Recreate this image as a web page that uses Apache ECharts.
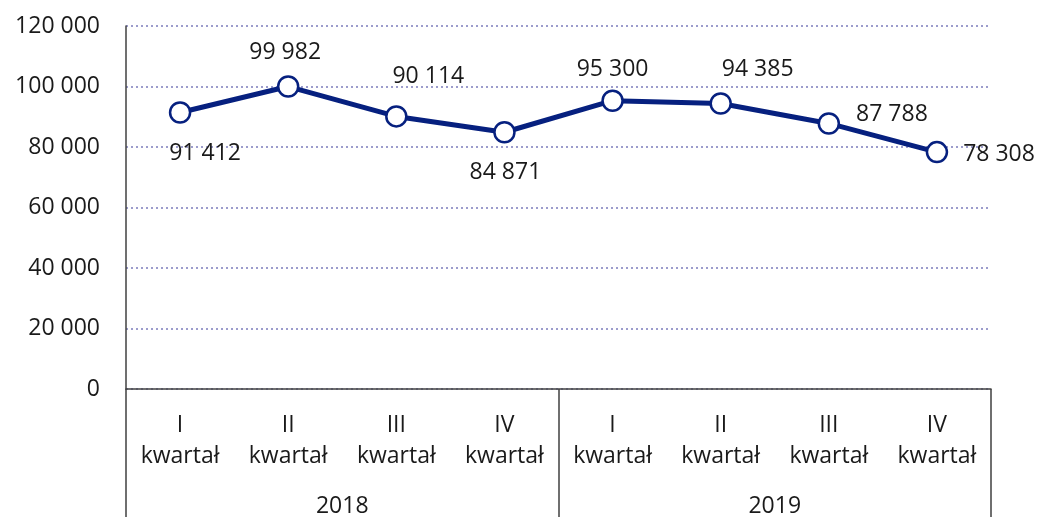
<!DOCTYPE html>
<html><head><meta charset="utf-8">
<script src="https://cdn.jsdelivr.net/npm/echarts@6/dist/echarts.min.js"></script>
<style>html,body{margin:0;padding:0;background:#fff;overflow:hidden;width:1038px;height:518px}#c{width:1038px;height:518px;overflow:hidden}</style>
</head><body><div id="c"></div>
<script>
const quarters = ['I\nkwartał','II\nkwartał','III\nkwartał','IV\nkwartał','I\nkwartał','II\nkwartał','III\nkwartał','IV\nkwartał'];
const years = ['2018','2019'];
const values = [91412, 99982, 90114, 84871, 95300, 94385, 87788, 78308];
const labelPos = ['bottom','top','top','bottom','top','top','right','right'];

const FONT = 'Open Sans';
const FS = 23;
const TXT = '#1a1a1a';
const NAVY = '#06207f';
function fmt(v){ return String(v).replace(/\B(?=(\d{3})+(?!\d))/g, ' '); }

const labelTweaks = [
  {distance: 18, offset: [25, 0]},
  {distance: 11, offset: [-3, 0]},
  {distance: 17, offset: [32, 0]},
  {distance: 17, offset: [1, 0]},
  {distance: 9, offset: [0, 0]},
  {distance: 11, offset: [37, 0]},
  {distance: 16, offset: [0, -9]},
  {distance: 15, offset: [0, 2]}
];

const chart = echarts.init(document.getElementById('c'), null, {renderer: 'canvas', width: 1038, height: 518});
chart.setOption({
  animation: false,
  textStyle: {fontFamily: FONT},
  grid: {left: 126, right: 47, top: 26, bottom: 128, containLabel: false},
  xAxis: [{
    type: 'category', data: quarters, position: 'bottom',
    axisLine: {show: true, lineStyle: {color: '#404040', width: 1.5}},
    axisTick: {show: false},
    axisLabel: {fontFamily: FONT, fontSize: FS, color: TXT, lineHeight: 31, margin: 21}
  }, {
    type: 'category', data: years, position: 'bottom', offset: 0,
    axisLine: {show: false},
    axisTick: {show: true, length: 128, lineStyle: {color: '#404040', width: 1.5}},
    axisLabel: {fontFamily: FONT, fontSize: FS, color: TXT, margin: 106}
  }],
  yAxis: {
    type: 'value', min: 0, max: 120000, interval: 20000,
    axisLine: {show: true, lineStyle: {color: '#404040', width: 1.5}},
    axisTick: {show: false},
    splitLine: {show: true, lineStyle: {color: '#9c9ccc', type: [2, 3], width: 2}},
    axisLabel: {fontFamily: FONT, fontSize: FS, color: TXT, margin: 26, formatter: v => fmt(v)}
  },
  series: [{
    type: 'line', xAxisIndex: 0, data: values.map((v, i) => ({
      value: v,
      label: {position: labelPos[i], distance: labelTweaks[i].distance, offset: labelTweaks[i].offset}
    })),
    lineStyle: {color: NAVY, width: 5},
    symbol: 'circle', symbolSize: 20,
    itemStyle: {color: '#fff', borderColor: NAVY, borderWidth: 2.5},
    label: {show: true, fontFamily: FONT, fontSize: FS, color: TXT, formatter: p => fmt(p.value)},
    z: 5
  }]
});
</script></body></html>
